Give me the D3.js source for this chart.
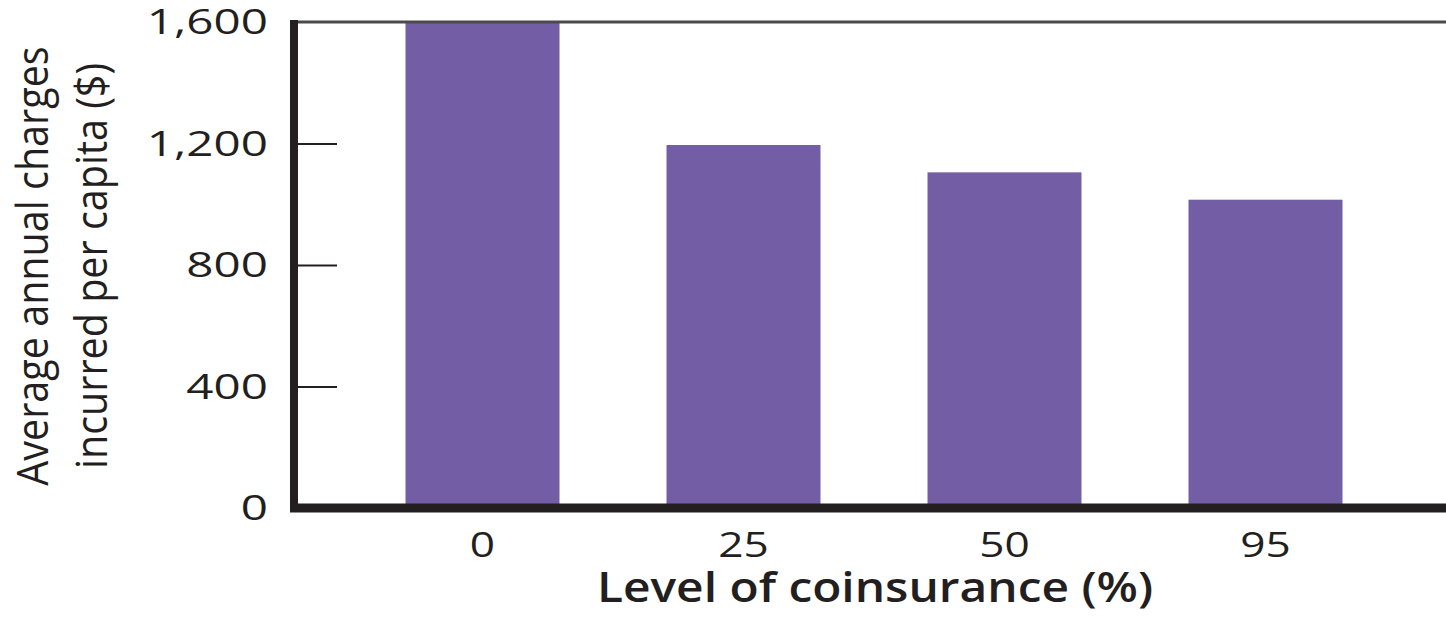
<!DOCTYPE html>
<html>
<head>
<meta charset="utf-8">
<script src="https://cdn.jsdelivr.net/npm/d3@7"></script>
<style>
  body { margin: 0; background: #fff; }
  svg { display: block; }
  text { font-family: "Open Sans", sans-serif; fill: #231f20; }
</style>
</head>
<body>
<svg width="1446" height="619"></svg>
<script>
// Data
const categories = ["0", "25", "50", "95"];
const charges = [1600, 1195, 1105, 1015];
const yTicks = [0, 400, 800, 1200, 1600];

const svg = d3.select("svg"),
  width = +svg.attr("width"),
  height = +svg.attr("height");

// plot box
const plotLeft = 294, plotRight = 1446, plotTop = 22, plotBottom = 508;

const x = d3.scaleBand()
  .domain(categories)
  .range([352, 1396])
  .paddingInner(0.41)
  .paddingOuter(0.205);

const y = d3.scaleLinear()
  .domain([0, 1600])
  .range([plotBottom, plotTop]);

// bars
svg.selectAll("rect.bar")
  .data(categories)
  .join("rect")
  .attr("class", "bar")
  .attr("x", d => x(d))
  .attr("width", x.bandwidth())
  .attr("y", (d, i) => y(charges[i]))
  .attr("height", (d, i) => y(0) - y(charges[i]))
  .attr("fill", "#735ea6");

// top frame line
svg.append("line")
  .attr("x1", plotLeft).attr("x2", plotRight)
  .attr("y1", plotTop).attr("y2", plotTop)
  .attr("stroke", "#4a4a4a")
  .attr("stroke-width", 3);

// y axis ticks (inside the frame)
const yAxis = svg.append("g")
  .attr("transform", `translate(${plotLeft},0)`)
  .call(d3.axisRight(y).tickValues(yTicks).tickSize(43).tickFormat(""));
yAxis.select(".domain").remove();
yAxis.selectAll(".tick line").attr("stroke", "#231f20").attr("stroke-width", 2)
  .filter(d => d === 0 || d === 1600).remove();

// y tick labels, the print is stretched sideways
svg.append("g")
  .selectAll("text")
  .data(yTicks)
  .join("text")
  .attr("transform", d => `translate(268,${y(d) + 12}) scale(1.4,1)`)
  .attr("text-anchor", "end")
  .style("font-size", "34px")
  .text(d => d3.format(",")(d));

svg.append("line")
  .attr("x1", plotLeft).attr("x2", plotLeft)
  .attr("y1", plotTop - 2).attr("y2", plotBottom + 4)
  .attr("stroke", "#231f20")
  .attr("stroke-width", 8);

// x axis
const xAxis = svg.append("g")
  .attr("transform", `translate(0,${plotBottom})`)
  .call(d3.axisBottom(x).tickSize(0));
xAxis.select(".domain").remove();
xAxis.selectAll("text")
  .attr("y", 0)
  .attr("dy", null)
  .attr("transform", "translate(0,49) scale(1.3,1)")
  .style("font-size", "34px")
  .style("font-family", "'Open Sans', sans-serif")
  .attr("fill", "#231f20");

svg.append("line")
  .attr("x1", plotLeft - 4).attr("x2", plotRight)
  .attr("y1", plotBottom).attr("y2", plotBottom)
  .attr("stroke", "#231f20")
  .attr("stroke-width", 9);

// axis titles
svg.append("text")
  .attr("transform", "translate(875,602) scale(1.14,1)")
  .attr("text-anchor", "middle")
  .style("font-size", "42px")
  .style("font-weight", 600)
  .text("Level of coinsurance (%)");

const yTitle = svg.append("text")
  .attr("transform", "translate(0,266) scale(1.1,1) rotate(-90)")
  .attr("text-anchor", "middle")
  .style("font-size", "39.5px");
yTitle.append("tspan").attr("x", 0).attr("y", 44).text("Average annual charges");
yTitle.append("tspan").attr("x", 0).attr("y", 97).text("incurred per capita ($)");
</script>
</body>
</html>
